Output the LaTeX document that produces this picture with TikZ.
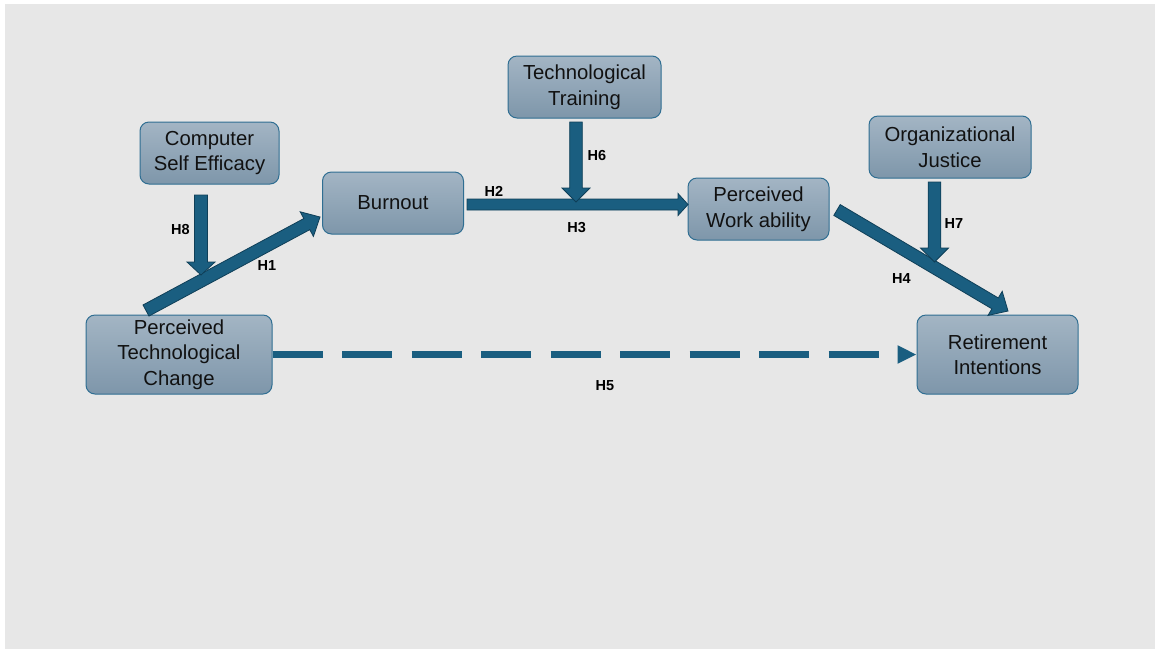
\documentclass[tikz,border=0pt]{standalone}
\usepackage{fontspec}
\setmainfont{Liberation Sans}
\usetikzlibrary{calc,arrows.meta}
\definecolor{bg}{HTML}{E7E7E7}
\definecolor{boxtop}{HTML}{A3B5C4}
\definecolor{boxbot}{HTML}{7E96AA}
\definecolor{boxline}{HTML}{2F6E92}
\definecolor{arrfill}{HTML}{1A5E80}
\definecolor{arrline}{HTML}{0F3F58}
\definecolor{txt}{HTML}{111111}
\tikzset{
  box/.style={draw=boxline, line width=1pt, rounded corners=9pt, top color=boxtop, bottom color=boxbot,
    align=center, text=txt, inner sep=2pt, font=\fontsize{20.3}{25.5}\selectfont},
  hlab/.style={font=\fontsize{14.5}{16}\selectfont\bfseries, text=black, inner sep=0pt},
  blk/.style={fill=arrfill, draw=arrline, line width=0.8pt, line join=miter},
  dashconn/.style={draw=arrfill, line width=7pt, dash pattern=on 50pt off 19.5pt,
    -{Triangle[length=19pt,width=17pt]}}
}
% block arrow: start, end, half body width, half head width, head length
\newcommand\blkarrow[5]{%
  \coordinate (bh) at ($(#2)!#5!(#1)$);
  \draw[blk] ($(#1)!#3!90:(#2)$) -- ($(bh)!#3!-90:(#1)$) -- ($(bh)!#4!-90:(#1)$) -- (#2)
    -- ($(bh)!#4!90:(#1)$) -- ($(bh)!#3!90:(#1)$) -- ($(#1)!#3!-90:(#2)$) -- cycle;
}
\begin{document}
\begin{tikzpicture}[x=1pt,y=-1pt]
\useasboundingbox (0,0) rectangle (1155,649);
\fill[white] (0,0) rectangle (1155,649);
\fill[bg] (5,4) rectangle (1155,649);

% nodes
\node[box, minimum width=139pt, minimum height=62pt] (cse) at (209.5,153) {Computer\\Self Efficacy};
\node[box, minimum width=141pt, minimum height=62pt] (burn) at (393,203) {Burnout};
\node[box, minimum width=153pt, minimum height=62pt] (tt) at (584.5,87) {Technological\\Training};
\node[box, minimum width=141pt, minimum height=62pt] (pwa) at (758.5,209) {Perceived\\Work ability};
\node[box, minimum width=162pt, minimum height=62pt] (oj) at (950,147) {Organizational\\Justice};
\node[box, minimum width=186pt, minimum height=79pt] (ptc) at (179,354.5) {Perceived\\Technological\\Change};
\node[box, minimum width=161pt, minimum height=79pt] (ri) at (997.5,354.5) {Retirement\\Intentions};

% connector end points
\coordinate (h1s) at (146,310.5);
\coordinate (h1e) at (320,217);
\coordinate (h8s) at (201,195);
\coordinate (h8e) at (201,275);
\coordinate (h2s) at (467,204.5);
\coordinate (h2e) at (688,204.5);
\coordinate (h6s) at (576,122);
\coordinate (h6e) at (576,202);
\coordinate (h4s) at (837,210);
\coordinate (h4e) at (1008,311);
\coordinate (h7s) at (934.5,182);
\coordinate (h7e) at (934.5,262);

% connectors
\blkarrow{h1s}{h1e}{6.3pt}{14pt}{15pt}
\blkarrow{h8s}{h8e}{6.5pt}{14pt}{13pt}
\blkarrow{h2s}{h2e}{5.5pt}{11pt}{10pt}
\blkarrow{h6s}{h6e}{6.3pt}{14pt}{14pt}
\blkarrow{h4s}{h4e}{6.3pt}{14pt}{15pt}
\blkarrow{h7s}{h7e}{6.3pt}{14pt}{14pt}
\draw[dashconn] (ptc.east) -- (ri.west);

% labels
\node[hlab] (l8) at (180.5,229) {H8};
\node[hlab] (l1) at (267,266) {H1};
\node[hlab] (l2) at (494,191.5) {H2};
\node[hlab] (l3) at (576.7,228) {H3};
\node[hlab] (l6) at (597,156) {H6};
\node[hlab] (l7) at (954,224) {H7};
\node[hlab] (l4) at (901.5,279) {H4};
\node[hlab] (l5) at (605,386) {H5};
\end{tikzpicture}
\end{document}
